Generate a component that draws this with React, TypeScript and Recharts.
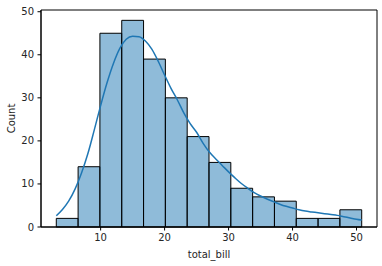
import { ComposedChart, Line, XAxis, YAxis, ReferenceArea } from "recharts";

// histogram bins (total_bill)
const binEdges = [3.07, 6.48, 9.89, 13.3, 16.71, 20.12, 23.53, 26.94, 30.35, 33.76, 37.17, 40.58, 43.99, 47.4, 50.81];
const binCounts = [2, 14, 45, 48, 39, 30, 21, 15, 9, 7, 6, 2, 2, 4];

// kde curve (in count units)
const kdeX = [3.07, 4, 5, 6, 7, 8, 9, 10, 11, 12, 13, 14, 15, 16, 17, 18, 19, 20, 21, 22, 23, 24, 25, 26, 27, 28, 29, 30, 31, 32, 33, 34, 35, 36, 37, 38, 39, 40, 41, 42, 43, 44, 45, 46, 47, 48, 49, 50, 50.81];
const kdeY = [2.6, 4.0, 6.0, 8.8, 12.5, 17, 22.5, 28.2, 33.5, 38, 41.5, 43.6, 44.3, 44.2, 43.2, 41.3, 38.5, 35.3, 32.2, 29.5, 26.5, 24, 22, 19.5, 17.4, 15.8, 14.3, 12.8, 11.4, 10.1, 9.0, 8.0, 7.2, 6.5, 5.9, 5.3, 4.8, 4.4, 4.0, 3.7, 3.5, 3.3, 3.1, 2.9, 2.7, 2.4, 2.1, 1.8, 1.6];

const xTicks = [10, 20, 30, 40, 50];
const yTicks = [0, 10, 20, 30, 40, 50];
const xDomain = [0.68, 53.2];
const yDomain = [0, 50.4];

const kde = kdeX.map((x, i) => ({ x, y: kdeY[i] }));
const tickStyle = { fontSize: 10, fill: "#262626", fontFamily: "DejaVu Sans" };

export default function App() {
  return (
    <div style={{ position: "absolute", left: 0, top: 0, background: "#fff" }}>
      <ComposedChart width={382} height={266} data={kde} margin={{ top: 10, right: 5, left: 0, bottom: 0 }}>
        <XAxis
          dataKey="x"
          type="number"
          domain={xDomain}
          ticks={xTicks}
          allowDataOverflow
          height={39}
          stroke="#000"
          tickSize={3.5}
          tickMargin={3.5}
          tick={tickStyle}
          label={{ value: "total_bill", position: "insideBottom", offset: 8, style: tickStyle }}
        />
        <YAxis
          type="number"
          domain={yDomain}
          ticks={yTicks}
          allowDataOverflow
          width={41}
          stroke="#000"
          tickSize={3.5}
          tickMargin={3.5}
          tick={tickStyle}
          label={{ value: "Count", angle: -90, position: "insideLeft", offset: 11, style: { ...tickStyle, textAnchor: "middle" } }}
        />
        {binCounts.map((c, i) => (
          <ReferenceArea
            key={i}
            x1={binEdges[i]}
            x2={binEdges[i + 1]}
            y1={0}
            y2={c}
            fill="#1f77b4"
            fillOpacity={0.5}
            stroke="#000"
            strokeWidth={1}
          />
        ))}
        {/* frame: top and right spines */}
        <ReferenceArea x1={xDomain[0]} x2={xDomain[1]} y1={yDomain[0]} y2={yDomain[1]} fill="none" stroke="#000" strokeWidth={1} />
        <Line type="monotone" dataKey="y" stroke="#1f77b4" strokeWidth={1.5} dot={false} isAnimationActive={false} />
      </ComposedChart>
    </div>
  );
}
